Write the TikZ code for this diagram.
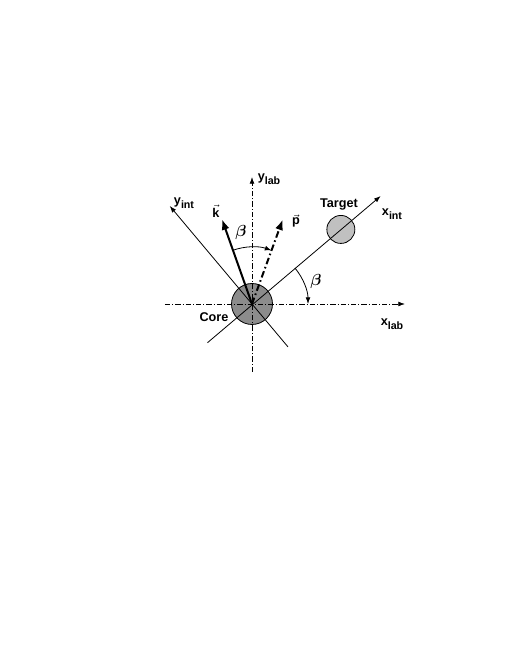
\documentclass[tikz,border=0pt]{standalone}
\usepackage{amsmath}
\usepackage{bm}
\usepackage{fontspec}
\setmainfont{Liberation Sans}
\usetikzlibrary{arrows.meta}
\definecolor{corefill}{RGB}{140,140,140}
\definecolor{targetfill}{RGB}{192,192,192}
\newcommand{\axsub}[1]{\raisebox{-3pt}{\fontsize{8}{9}\selectfont #1}}

\begin{document}
\begin{tikzpicture}[x=0.75pt,y=0.75pt,
  thinline/.style={line width=0.6pt},
  dashdot/.style={dash pattern={on 4pt off 1.5pt on 0.75pt off 1.5pt}},
  thickdashdot/.style={line width=1.5pt, dash pattern={on 5pt off 2.2pt on 1.2pt off 2.2pt}},
  smalltip/.style={-{Latex[length=5pt,width=3.6pt]}},
  bigtip/.style={-{Latex[length=8pt,width=6pt]}},
  lbl/.style={inner sep=0.75pt, font=\bfseries\fontsize{9.5}{11}\selectfont},
  ang/.style={inner sep=0.75pt, font=\fontsize{11.5}{12}\selectfont}]
\useasboundingbox (-252,-366) rectangle (266,304);

\coordinate (O) at (0,0);

%Shape: Circle [core]
\node[circle, draw, thinline, fill=corefill, minimum size=30.75pt, inner sep=0pt] (core) at (O) {};
%Shape: Circle [target]
\node[circle, draw, thinline, fill=targetfill, minimum size=21pt, inner sep=0pt] (target) at (40:116) {};

%Straight Lines [lab axes]
\coordinate (xlabL) at (-87,0);
\coordinate (xlabR) at (153,0);
\coordinate (ylabB) at (0,-68);
\coordinate (ylabT) at (0,127);
\draw[thinline, dashdot, smalltip] (xlabL) -- (xlabR);
\draw[thinline, dashdot, smalltip] (ylabB) -- (ylabT);

%Straight Lines [int axes]
\coordinate (xintL) at (221:59);
\coordinate (xintR) at (40:168);
\coordinate (yintB) at (-50:56);
\coordinate (yintT) at (130:128);
\draw[thinline, smalltip] (xintL) -- (xintR);
\draw[thinline, smalltip] (yintB) -- (yintT);

%Straight Lines [momenta]
\coordinate (ktip) at (109.5:90);
\coordinate (ptip) at (70:90);
\draw[line width=1.5pt, bigtip] (O) -- (ktip);
\draw[thickdashdot, bigtip] (O) -- (ptip);

%Arcs [angles]
\draw[thinline, smalltip] (110:57) arc[start angle=110, end angle=70, radius=57];
\draw[thinline, smalltip] (40:56) arc[start angle=40, end angle=0, radius=56];

% Text Node
\node[lbl] (ylab) at (17,125) {y\axsub{lab}};
% Text Node
\node[lbl] (yint) at (-68,101) {y\axsub{int}};
% Text Node
\node[lbl] (klbl) at (-36,93) {$\vec{\mbox{\bfseries k}}$};
% Text Node
\node[lbl] (plbl) at (44,83) {$\vec{\mbox{\bfseries p}}$};
% Text Node
\node[lbl] (tlbl) at (87,100) {Target};
% Text Node
\node[lbl] (xint) at (140,90) {x\axsub{int}};
% Text Node
\node[lbl] (clbl) at (-38,-13) {Core};
% Text Node
\node[lbl] (xlab) at (140,-20) {x\axsub{lab}};
% Text Node
\node[ang] (b1) at (-11,71) {$\bm{\beta}$};
% Text Node
\node[ang] (b2) at (64,22) {$\bm{\beta}$};

\end{tikzpicture}
\end{document}
